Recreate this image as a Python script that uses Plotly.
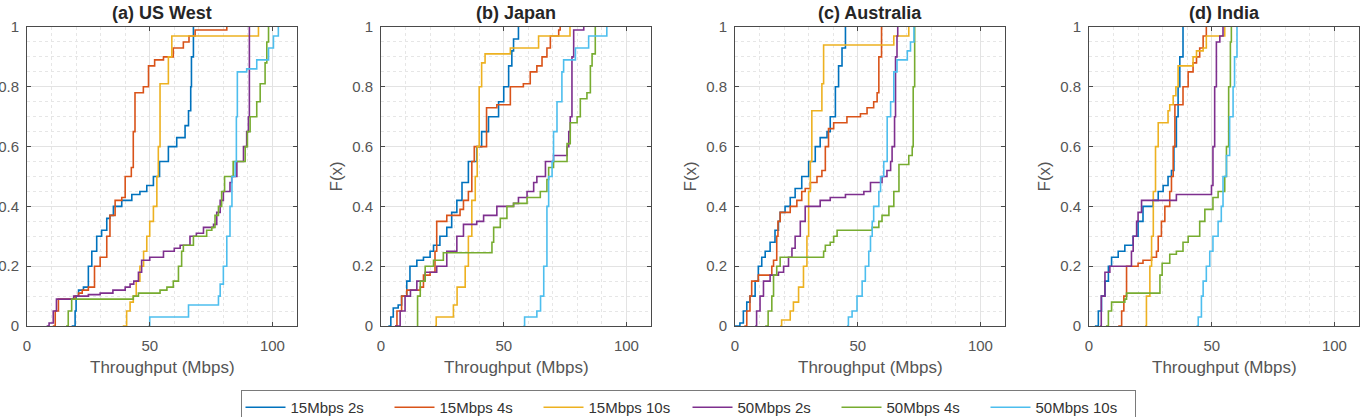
import plotly.graph_objects as go

# ---------------- data (step points of the empirical CDFs) ----------------
SERIES = ["15Mbps 2s", "15Mbps 4s", "15Mbps 10s", "50Mbps 2s", "50Mbps 4s", "50Mbps 10s"]
TITLES = ["(a) US West", "(b) Japan", "(c) Australia", "(d) India"]
X_TICKS = [0, 50, 100]
Y_TICKS = [0, 0.2, 0.4, 0.6, 0.8, 1]

# (a) US West
USW_15_2_X = [18.2, 19.6, 20, 21, 23, 25, 26.4, 28.4, 30.4, 32.5, 33.8, 35.2, 38.6, 42.7, 46, 48.8, 51.5, 54, 57.6, 61, 64.4, 65.8, 66.7, 67, 67.8]
USW_15_2_F = [0, 0.05, 0.1, 0.12, 0.13, 0.2, 0.25, 0.3, 0.32, 0.36, 0.37, 0.4, 0.42, 0.44, 0.45, 0.47, 0.5, 0.55, 0.6, 0.63, 0.67, 0.72, 0.8, 0.9, 1.0]
USW_15_4_X = [10.5, 11.5, 12.8, 19.6, 21, 22.5, 25, 27.5, 29.8, 32.5, 33.8, 35.9, 38.6, 40, 42.5, 43.3, 44, 47.4, 49.5, 52, 55.6, 59.6, 63.7, 66, 68.5, 81.4]
USW_15_4_F = [0, 0.05, 0.09, 0.1, 0.11, 0.12, 0.13, 0.2, 0.23, 0.3, 0.37, 0.42, 0.43, 0.5, 0.53, 0.65, 0.78, 0.8, 0.87, 0.89, 0.9, 0.93, 0.95, 0.97, 0.99, 1.0]
USW_15_10_X = [39, 40.6, 42, 43.3, 44.5, 46, 47.5, 48.8, 50, 51.5, 52.9, 53.5, 54.2, 57.6, 59, 94.3]
USW_15_10_F = [0, 0.05, 0.08, 0.1, 0.15, 0.2, 0.25, 0.3, 0.35, 0.4, 0.5, 0.6, 0.81, 0.9, 0.97, 1.0]
USW_50_2_X = [8, 9, 10.7, 12, 19, 25, 29.8, 35, 40, 42, 43.5, 45.4, 46.7, 50, 55.6, 60, 62.4, 66.4, 69, 71.9, 76, 77.3, 78.7, 80, 82.7, 83.4, 85.5, 88.2, 89.5, 90.2, 90.6]
USW_50_2_F = [0, 0.01, 0.05, 0.09, 0.1, 0.105, 0.11, 0.12, 0.13, 0.14, 0.15, 0.18, 0.22, 0.23, 0.25, 0.26, 0.27, 0.3, 0.31, 0.33, 0.34, 0.38, 0.42, 0.45, 0.48, 0.5, 0.55, 0.6, 0.65, 0.7, 1.0]
USW_50_4_X = [15.9, 16.8, 18.2, 43.3, 45.4, 54.2, 57, 59.6, 61.7, 63, 63.7, 67.8, 73.2, 75.3, 76.6, 78, 79.3, 80.5, 84, 88.9, 89.8, 90.9, 93.6, 95, 97, 97.7, 98.4]
USW_50_4_F = [0, 0.05, 0.09, 0.1, 0.11, 0.12, 0.13, 0.15, 0.2, 0.25, 0.27, 0.3, 0.32, 0.33, 0.37, 0.4, 0.45, 0.5, 0.55, 0.6, 0.65, 0.7, 0.75, 0.81, 0.88, 0.95, 1.0]
USW_50_10_X = [49.5, 50, 65.8, 78, 78.7, 80, 81.4, 82.7, 83.5, 84.8, 85.3, 85.7, 89.5, 93.6, 98.4, 100.4, 102.4]
USW_50_10_F = [0, 0.03, 0.07, 0.1, 0.14, 0.2, 0.3, 0.4, 0.5, 0.55, 0.7, 0.85, 0.86, 0.89, 0.93, 0.97, 1.0]

# (b) Japan
JP_15_2_X = [3, 4, 5, 7, 8.4, 10.5, 11.8, 14.6, 17.3, 20, 21.4, 24, 26.8, 28.8, 30.9, 33, 35.6, 39, 41, 43.8, 47.9, 50, 52, 53.3, 54, 56]
JP_15_2_F = [0, 0.03, 0.06, 0.07, 0.1, 0.15, 0.2, 0.22, 0.23, 0.25, 0.27, 0.3, 0.33, 0.38, 0.42, 0.48, 0.55, 0.6, 0.65, 0.7, 0.75, 0.8, 0.87, 0.92, 0.96, 1.0]
JP_15_4_X = [5.7, 6.5, 8.4, 10.5, 16, 17.3, 20, 22, 22.7, 26.8, 32.2, 33.6, 35.6, 37, 38, 43, 47.2, 52.7, 58, 60.8, 63.5, 65.6, 67.6, 69, 72.4, 73]
JP_15_4_F = [0, 0.05, 0.1, 0.12, 0.13, 0.17, 0.18, 0.25, 0.35, 0.37, 0.39, 0.42, 0.45, 0.55, 0.6, 0.73, 0.74, 0.8, 0.81, 0.85, 0.87, 0.9, 0.93, 0.97, 0.99, 1.0]
JP_15_10_X = [22, 22.5, 29.5, 31, 34.3, 35.6, 37, 38.4, 39.2, 40, 41, 42.4, 52.7, 64.2, 77]
JP_15_10_F = [0, 0.03, 0.07, 0.13, 0.2, 0.3, 0.42, 0.5, 0.6, 0.8, 0.88, 0.91, 0.93, 0.97, 1.0]
JP_50_2_X = [5.7, 7.8, 9.8, 12, 14.6, 18, 22.7, 26.8, 30.9, 33.6, 39, 41.8, 47.2, 54, 56, 59.5, 62.2, 63.5, 67, 70.3, 75.8, 76.5, 77.1, 77.8, 78.5, 82.6]
JP_50_2_F = [0, 0.05, 0.1, 0.12, 0.15, 0.18, 0.2, 0.25, 0.3, 0.34, 0.35, 0.37, 0.4, 0.41, 0.43, 0.45, 0.48, 0.5, 0.55, 0.57, 0.6, 0.65, 0.7, 0.9, 0.99, 1.0]
JP_50_4_X = [14.6, 14.9, 16, 18, 21.4, 25.4, 45.2, 45.9, 48.6, 51.3, 54, 59.5, 64.9, 67.6, 68.3, 70.3, 75.8, 77.1, 79.9, 81.2, 83.9, 85.3, 86, 87.3]
JP_50_4_F = [0, 0.1, 0.15, 0.2, 0.22, 0.245, 0.28, 0.33, 0.36, 0.4, 0.41, 0.43, 0.45, 0.49, 0.53, 0.55, 0.61, 0.68, 0.7, 0.76, 0.78, 0.87, 0.91, 1.0]
JP_50_10_X = [58, 58.5, 63.5, 65, 66.3, 67.6, 68.3, 69.7, 70.3, 71.7, 73.7, 74.4, 79.2, 84.6, 92]
JP_50_10_F = [0, 0.03, 0.05, 0.1, 0.2, 0.4, 0.5, 0.55, 0.65, 0.75, 0.85, 0.89, 0.93, 0.97, 1.0]

# (c) Australia
AU_15_2_X = [0, 2, 3.4, 4.8, 6.1, 8.2, 9.5, 10.9, 12.3, 14.3, 16.3, 17.7, 18.4, 20.4, 22.5, 24.5, 27.2, 30, 32.7, 34.7, 37.5, 38.8, 40.9, 42.2, 43.6, 45]
AU_15_2_F = [0, 0.01, 0.05, 0.08, 0.1, 0.15, 0.2, 0.23, 0.25, 0.28, 0.32, 0.35, 0.38, 0.4, 0.43, 0.46, 0.5, 0.55, 0.6, 0.63, 0.65, 0.7, 0.8, 0.87, 0.93, 1.0]
AU_15_4_X = [3.8, 4.8, 6.1, 6.8, 9.5, 15, 15.7, 17, 17.5, 18.4, 22.5, 25.2, 27.2, 28.6, 30.7, 33.4, 35.4, 36.8, 38.1, 40.2, 45.6, 51.1, 53.8, 56.5, 57.9, 58.6, 59.7]
AU_15_4_F = [0, 0.05, 0.1, 0.15, 0.17, 0.2, 0.22, 0.3, 0.35, 0.38, 0.4, 0.42, 0.45, 0.46, 0.48, 0.5, 0.52, 0.6, 0.66, 0.68, 0.7, 0.71, 0.73, 0.75, 0.78, 0.9, 1.0]
AU_15_10_X = [18.4, 19, 22.5, 23.8, 25.9, 27.9, 29.3, 30, 30.7, 31.3, 35.4, 36.1, 64.7, 70.8]
AU_15_10_F = [0, 0.02, 0.05, 0.08, 0.13, 0.2, 0.3, 0.45, 0.55, 0.72, 0.81, 0.94, 0.97, 1.0]
AU_50_2_X = [8.2, 8.8, 10.2, 11.6, 14.3, 17.7, 19.8, 21.8, 23.2, 24.5, 26.6, 28.6, 34.7, 38.8, 45, 52.5, 55.2, 59.9, 61.9, 63.4, 64, 65, 65.4, 66, 66.3]
AU_50_2_F = [0, 0.05, 0.1, 0.15, 0.17, 0.18, 0.2, 0.23, 0.26, 0.3, 0.35, 0.4, 0.42, 0.43, 0.44, 0.45, 0.48, 0.5, 0.52, 0.55, 0.6, 0.7, 0.9, 0.97, 1.0]
AU_50_4_X = [12.3, 13.5, 15, 15.7, 17, 18.4, 36.1, 36.8, 38.8, 40.2, 41.6, 55.9, 58.6, 59.9, 62.7, 64.7, 66.8, 70.8, 72.2, 72.6, 73.2]
AU_50_4_F = [0, 0.05, 0.1, 0.17, 0.2, 0.23, 0.25, 0.27, 0.28, 0.3, 0.32, 0.33, 0.35, 0.37, 0.4, 0.45, 0.54, 0.57, 0.6, 0.8, 1.0]
AU_50_10_X = [45.6, 46.2, 47.7, 49.7, 51.8, 53.1, 54.5, 55.2, 55.9, 56.5, 58.6, 59.3, 60.6, 62, 63.4, 64.7, 66, 70.2, 71.5, 72.9]
AU_50_10_F = [0, 0.03, 0.05, 0.1, 0.15, 0.2, 0.25, 0.3, 0.35, 0.4, 0.45, 0.5, 0.55, 0.7, 0.75, 0.85, 0.89, 0.92, 0.95, 1.0]

# (d) India
IN_15_2_X = [2.4, 3.8, 5.1, 6.5, 7.9, 9.2, 11.9, 14.6, 18, 20, 22, 26.1, 28.2, 30.2, 32.2, 33.6, 34.6, 35.6, 36.3, 37, 38.3]
IN_15_2_F = [0, 0.05, 0.1, 0.15, 0.2, 0.23, 0.25, 0.27, 0.3, 0.35, 0.4, 0.42, 0.45, 0.47, 0.5, 0.52, 0.6, 0.7, 0.8, 0.9, 1.0]
IN_15_4_X = [11.9, 13.3, 14.2, 15.3, 20, 22, 25.5, 27.5, 28.2, 29.5, 30.9, 32.9, 33.6, 34.3, 35, 38.3, 40.4, 42.4, 43.8, 45.1, 46.5, 47.8]
IN_15_4_F = [0, 0.05, 0.1, 0.2, 0.21, 0.22, 0.23, 0.25, 0.3, 0.35, 0.4, 0.45, 0.5, 0.6, 0.74, 0.8, 0.85, 0.88, 0.9, 0.93, 0.97, 1.0]
IN_15_10_X = [22.8, 23.4, 24.8, 25.5, 26.2, 27.1, 28.2, 32.2, 32.9, 34.3, 35.4, 36.3, 42.4, 43.8, 46.5, 47.8, 55.3]
IN_15_10_F = [0, 0.1, 0.2, 0.3, 0.45, 0.6, 0.68, 0.72, 0.74, 0.77, 0.8, 0.87, 0.9, 0.92, 0.93, 0.97, 1.0]
IN_50_2_X = [4.5, 5, 6.5, 8.5, 17.3, 18, 19.4, 20, 21.4, 35.6, 49.9, 50.5, 51.2, 51.9, 53.3, 54.6]
IN_50_2_F = [0, 0.1, 0.18, 0.2, 0.25, 0.3, 0.35, 0.38, 0.42, 0.44, 0.47, 0.6, 0.8, 0.95, 0.97, 1.0]
IN_50_4_X = [6.9, 7.9, 9.2, 14.6, 15.3, 28.9, 29.8, 32.9, 35.6, 38.3, 40.4, 45.1, 47.2, 50.5, 52.6, 55.3, 56, 56.9, 57.6, 58]
IN_50_4_F = [0, 0.05, 0.08, 0.09, 0.11, 0.17, 0.21, 0.24, 0.25, 0.28, 0.3, 0.35, 0.39, 0.43, 0.45, 0.5, 0.6, 0.8, 0.95, 1.0]
IN_50_10_X = [43.8, 44.5, 45.8, 46.5, 47.8, 49.2, 50.5, 52.6, 53.9, 54.6, 56, 57.3, 58.7, 59.3, 60.3]
IN_50_10_F = [0, 0.03, 0.1, 0.15, 0.2, 0.25, 0.3, 0.35, 0.4, 0.5, 0.57, 0.7, 0.8, 0.9, 1.0]

REGIONS = [
    [(USW_15_2_X, USW_15_2_F), (USW_15_4_X, USW_15_4_F), (USW_15_10_X, USW_15_10_F),
     (USW_50_2_X, USW_50_2_F), (USW_50_4_X, USW_50_4_F), (USW_50_10_X, USW_50_10_F)],
    [(JP_15_2_X, JP_15_2_F), (JP_15_4_X, JP_15_4_F), (JP_15_10_X, JP_15_10_F),
     (JP_50_2_X, JP_50_2_F), (JP_50_4_X, JP_50_4_F), (JP_50_10_X, JP_50_10_F)],
    [(AU_15_2_X, AU_15_2_F), (AU_15_4_X, AU_15_4_F), (AU_15_10_X, AU_15_10_F),
     (AU_50_2_X, AU_50_2_F), (AU_50_4_X, AU_50_4_F), (AU_50_10_X, AU_50_10_F)],
    [(IN_15_2_X, IN_15_2_F), (IN_15_4_X, IN_15_4_F), (IN_15_10_X, IN_15_10_F),
     (IN_50_2_X, IN_50_2_F), (IN_50_4_X, IN_50_4_F), (IN_50_10_X, IN_50_10_F)],
]

# ---------------- style ----------------
W, H = 1363, 417
COLORS = ["#0072BD", "#D95319", "#EDB120", "#7E2F8E", "#77AC30", "#4DBEEE"]
FONT = "Liberation Sans, Arial, Helvetica, sans-serif"
AXC = "#4a4a4a"
TXT = "#555555"
PLOT_LEFT = [27, 381, 735, 1089]
PLOT_W = 270
PLOT_TOP, PLOT_BOTTOM = 27, 326

fig = go.Figure()
for i, region in enumerate(REGIONS):
    suffix = "" if i == 0 else str(i + 1)
    for j, (xs, fs) in enumerate(region):
        fig.add_trace(go.Scatter(
            x=xs, y=fs, mode="lines", name=SERIES[j], legendgroup=SERIES[j],
            showlegend=(i == 0),
            line=dict(color=COLORS[j], width=1.6, shape="hv"),
            xaxis="x" + suffix, yaxis="y" + suffix,
        ))

layout = dict(
    width=W, height=H,
    margin=dict(l=0, r=0, t=0, b=0, autoexpand=False),
    paper_bgcolor="white", plot_bgcolor="white",
    font=dict(family=FONT, color=TXT),
    showlegend=True,
    legend=dict(
        orientation="h", x=688 / W, xanchor="center", y=(H - 390) / H, yanchor="top",
        font=dict(size=15, color="#333333", family=FONT),
        bordercolor="#7a7a7a", borderwidth=1, bgcolor="white",
        itemwidth=40, entrywidth=94, entrywidthmode="pixels",
    ),
)

annotations = []
for i in range(4):
    suffix = "" if i == 0 else str(i + 1)
    x0 = PLOT_LEFT[i]
    x1 = x0 + PLOT_W
    layout["xaxis" + suffix] = dict(
        domain=[x0 / W, x1 / W], range=[0, 110], anchor="y" + suffix,
        tickvals=X_TICKS, ticks="inside", ticklen=4, tickcolor=AXC,
        showline=True, linecolor=AXC, linewidth=1, mirror="ticks",
        showgrid=True, gridcolor="#e3e3e3", gridwidth=1, zeroline=False,
        minor=dict(dtick=10, showgrid=True, gridcolor="#e6e6e6", griddash="dot", gridwidth=1),
        tickfont=dict(size=15, color=TXT, family=FONT), ticklabelstandoff=6,
        automargin=False, fixedrange=True,
    )
    layout["yaxis" + suffix] = dict(
        domain=[(H - PLOT_BOTTOM) / H, (H - PLOT_TOP) / H], range=[0, 1], anchor="x" + suffix,
        tickvals=Y_TICKS, ticktext=["0", "0.2", "0.4", "0.6", "0.8", "1"],
        ticks="inside", ticklen=4, tickcolor=AXC,
        showline=True, linecolor=AXC, linewidth=1, mirror="ticks",
        showgrid=True, gridcolor="#e3e3e3", gridwidth=1, zeroline=False,
        minor=dict(dtick=0.05, showgrid=True, gridcolor="#e6e6e6", griddash="dot", gridwidth=1),
        tickfont=dict(size=15, color=TXT, family=FONT), ticklabelstandoff=4,
        automargin=False, fixedrange=True,
    )
    cx = (x0 + x1) / 2
    annotations.append(dict(
        text="<b>" + TITLES[i] + "</b>", x=cx / W, y=(H - 13) / H, xref="paper", yref="paper",
        xanchor="center", yanchor="middle", showarrow=False,
        font=dict(size=18, color="#262626", family=FONT),
    ))
    annotations.append(dict(
        text="Throughput (Mbps)", x=cx / W, y=(H - 367) / H, xref="paper", yref="paper",
        xanchor="center", yanchor="middle", showarrow=False,
        font=dict(size=17, color=TXT, family=FONT),
    ))
    if i > 0:
        annotations.append(dict(
            text="F(x)", x=(x0 - 45) / W, y=(H - (PLOT_TOP + PLOT_BOTTOM) / 2) / H,
            xref="paper", yref="paper", xanchor="center", yanchor="middle",
            textangle=-90, showarrow=False,
            font=dict(size=17, color=TXT, family=FONT),
        ))
layout["annotations"] = annotations
fig.update_layout(**layout)
fig.write_html("out.html")
